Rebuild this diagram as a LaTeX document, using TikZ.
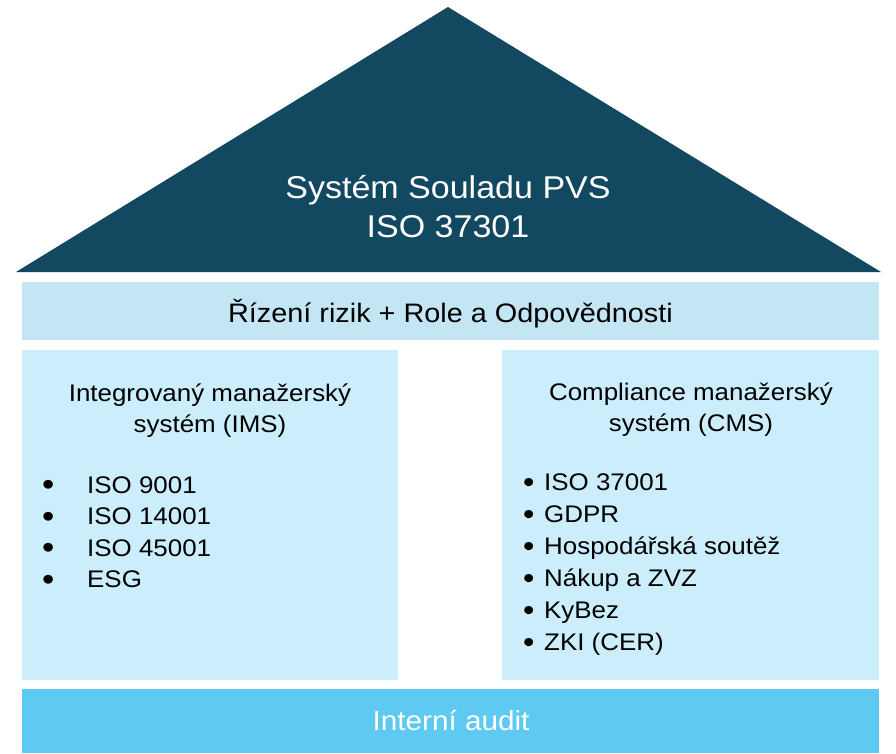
\documentclass[tikz,border=0pt]{standalone}
\usepackage{fontspec}
\setmainfont{Liberation Sans}[FakeStretch=1.08]
\definecolor{navy}{RGB}{19,72,97}
\definecolor{bandblue}{RGB}{195,229,244}
\definecolor{boxblue}{RGB}{204,238,252}
\definecolor{auditblue}{RGB}{94,201,241}
\begin{document}
\begin{tikzpicture}[x=1pt,y=-1pt,
  txt/.style={inner sep=0pt,anchor=base},
  item/.style={inner sep=0pt,anchor=base west,font=\fontsize{24}{24}\selectfont},
  head/.style={txt,font=\fontsize{24}{24}\selectfont}]
\useasboundingbox (0,0) rectangle (896,753);
% shapes
\fill[navy] (16,272) -- (448,7) -- (881,272) -- cycle;
\fill[bandblue] (22,282) rectangle (879,340);
\fill[boxblue] (22,350) rectangle (398,680);
\fill[boxblue] (502,350) rectangle (879,680);
\fill[auditblue] (22,689) rectangle (879,753);
% roof text
\node[txt,text=white,font=\fontsize{31.5}{31.5}\selectfont] (t1) at (448,198) {Systém Souladu PVS};
\node[txt,text=white,font=\fontsize{31.5}{31.5}\selectfont] (t2) at (448,237) {ISO 37301};
% band
\node[txt,font=\fontsize{26.7}{26.7}\selectfont] (band) at (450.5,322) {Řízení rizik + Role a Odpovědnosti};
% left heading
\node[head] (lh1) at (210,401) {Integrovaný manažerský};
\node[head] (lh2) at (210,432) {systém (IMS)};
% right heading
\node[head] (rh1) at (691,400) {Compliance manažerský};
\node[head] (rh2) at (691,431) {systém (CMS)};
% left list
\node[item] (l1) at (42,493) {\makebox[45pt][l]{\raisebox{-2.5pt}{\scalebox{1.35}{•}}}ISO 9001};
\node[item] (l2) at (42,524.5) {\makebox[45pt][l]{\raisebox{-2.5pt}{\scalebox{1.35}{•}}}ISO 14001};
\node[item] (l3) at (42,556) {\makebox[45pt][l]{\raisebox{-2.5pt}{\scalebox{1.35}{•}}}ISO 45001};
\node[item] (l4) at (42,587.5) {\makebox[45pt][l]{\raisebox{-2.5pt}{\scalebox{1.35}{•}}}ESG};
% right list
\node[item] (r1) at (523,490) {\makebox[21pt][l]{\raisebox{-2pt}{\scalebox{1.25}{•}}}ISO 37001};
\node[item] (r2) at (523,522) {\makebox[21pt][l]{\raisebox{-2pt}{\scalebox{1.25}{•}}}GDPR};
\node[item] (r3) at (523,554) {\makebox[21pt][l]{\raisebox{-2pt}{\scalebox{1.25}{•}}}Hospodářská soutěž};
\node[item] (r4) at (523,586) {\makebox[21pt][l]{\raisebox{-2pt}{\scalebox{1.25}{•}}}Nákup a ZVZ};
\node[item] (r5) at (523,618) {\makebox[21pt][l]{\raisebox{-2pt}{\scalebox{1.25}{•}}}KyBez};
\node[item] (r6) at (523,650) {\makebox[21pt][l]{\raisebox{-2pt}{\scalebox{1.25}{•}}}ZKI (CER)};
% audit
\node[txt,text=white,font=\fontsize{27.5}{27.5}\selectfont] (audit) at (451,730) {Interní audit};
\end{tikzpicture}
\end{document}
